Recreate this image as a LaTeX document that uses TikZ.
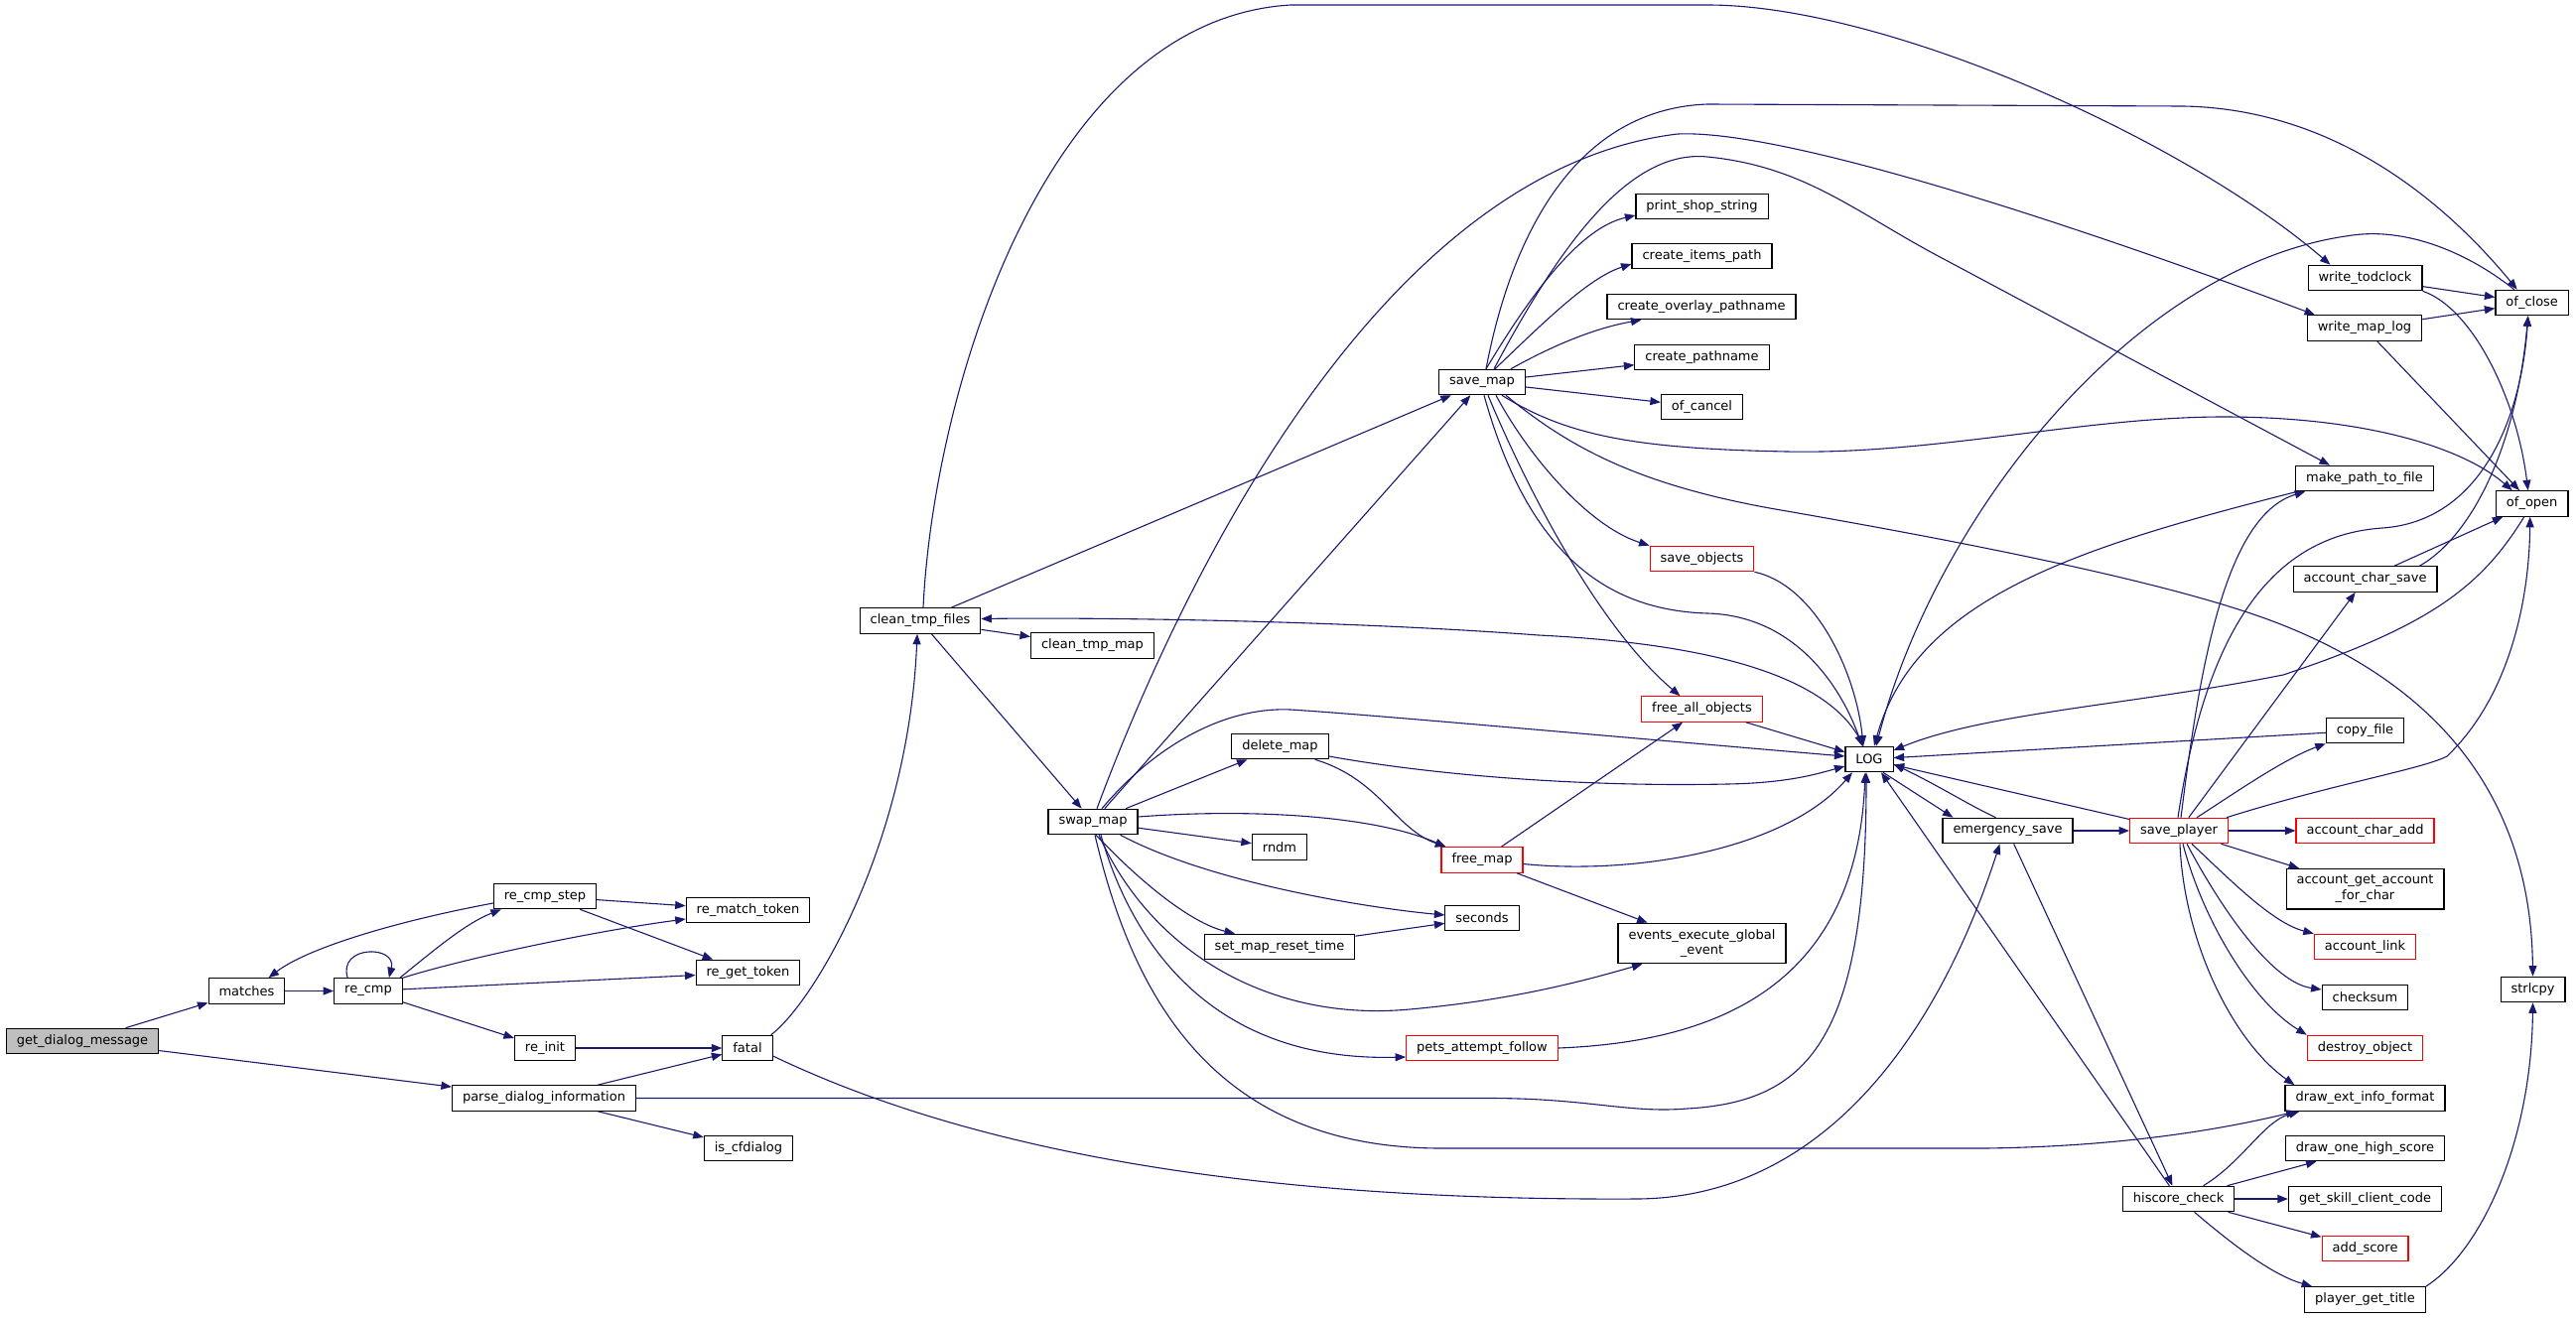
\documentclass[tikz,border=0pt]{standalone}
\usepackage{fontspec}
\setmainfont{DejaVu Sans}
\usepackage{tikz}
\usetikzlibrary{arrows.meta}
\definecolor{edgeblue}{HTML}{191970}
\definecolor{rootfill}{HTML}{BFBFBF}
\definecolor{truncred}{HTML}{FF0000}
\tikzset{
  fn/.style={draw=black, line width=1.1pt, fill=white, minimum height=25.5pt,
    inner xsep=10.5pt, inner ysep=3pt, align=center,
    font=\fontsize{13}{15.5}\selectfont},
  trunc/.style={fn, draw=truncred},
  root/.style={fn, fill=rootfill},
  call/.style={draw=edgeblue, line width=1.1pt, -{Triangle[length=10.5pt,width=8pt]}}
}

\begin{document}
\begin{tikzpicture}[x=1pt,y=-1pt]
\useasboundingbox (0,0) rectangle (2595,1328);

% functions
\node[root] (gdm) at (83,1049) {get\_dialog\_message};
\node[fn] (matches) at (248.5,998.5) {matches};
\node[fn] (recmp) at (371,998.5) {re\_cmp};
\node[fn] (recmpstep) at (549,903) {re\_cmp\_step};
\node[fn] (reinit) at (549,1056) {re\_init};
\node[fn] (parsedlg) at (548,1106.5) {parse\_dialog\_information};
\node[fn] (rematch) at (753.5,917) {re\_match\_token};
\node[fn] (regettoken) at (753.5,980) {re\_get\_token};
\node[fn] (fatal) at (753,1056) {fatal};
\node[fn] (iscfd) at (754,1157) {is\_cfdialog};
\node[fn] (cleanfiles) at (927,625.5) {clean\_tmp\_files};
\node[fn] (cleanmap) at (1100.5,650.5) {clean\_tmp\_map};
\node[fn] (swapmap) at (1101,828) {swap\_map};
\node[fn] (savemap) at (1493,385) {save\_map};
\node[fn] (deletemap) at (1289.5,752) {delete\_map};
\node[fn] (rndm) at (1289,853.5) {rndm};
\node[fn] (resettime) at (1289,954) {set\_map\_reset\_time};
\node[trunc] (freemap) at (1493,866.5) {free\_map};
\node[fn] (seconds) at (1493,925) {seconds};
\node[trunc] (pets) at (1493,1056) {pets\_attempt\_follow};
\node[fn] (printshop) at (1714.5,208) {print\_shop\_string};
\node[fn] (itemspath) at (1714.5,258) {create\_items\_path};
\node[fn] (overlaypath) at (1714,309) {create\_overlay\_pathname};
\node[fn] (pathname) at (1714.5,360) {create\_pathname};
\node[fn] (ofcancel) at (1714.5,410) {of\_cancel};
\node[trunc] (saveobj) at (1714.5,563) {save\_objects};
\node[trunc] (freeall) at (1714.5,714.5) {free\_all\_objects};
\node[fn, minimum height=40.5pt] (events) at (1714.5,950.5) {events\_execute\_global\\\_event};
\node[fn] (log) at (1883,765) {LOG};
\node[fn] (emsave) at (2022.5,837) {emergency\_save};
\node[trunc] (saveplayer) at (2195,837) {save\_player};
\node[fn] (hiscore) at (2194.6,1208) {hiscore\_check};
\node[fn] (todclock) at (2382.5,280) {write\_todclock};
\node[fn] (maplog) at (2382,330.5) {write\_map\_log};
\node[fn] (mkpath) at (2382,482) {make\_path\_to\_file};
\node[fn] (charsave) at (2382.5,583.5) {account\_char\_save};
\node[fn] (copyfile) at (2382.5,736) {copy\_file};
\node[trunc] (charadd) at (2382.5,837) {account\_char\_add};
\node[fn, minimum height=40.5pt] (getaccount) at (2382.5,895.7) {account\_get\_account\\\_for\_char};
\node[trunc] (acclink) at (2382.5,954) {account\_link};
\node[fn] (checksum) at (2382.5,1005) {checksum};
\node[trunc] (destroy) at (2382.5,1056) {destroy\_object};
\node[fn] (drawext) at (2382.5,1106.5) {draw\_ext\_info\_format};
\node[fn] (drawone) at (2382.5,1157) {draw\_one\_high\_score};
\node[fn] (skillcode) at (2382.5,1208) {get\_skill\_client\_code};
\node[trunc] (addscore) at (2382.5,1258) {add\_score};
\node[fn] (gettitle) at (2382.5,1309.4) {player\_get\_title};
\node[fn] (ofclose) at (2550.7,305) {of\_close};
\node[fn] (ofopen) at (2550.7,507.5) {of\_open};
\node[fn] (strlcpy) at (2551.5,997) {strlcpy};

% calls, left part
\draw[call] (gdm) -- (matches);
\draw[call] (gdm) -- (parsedlg);
\draw[call] (matches) -- (recmp);
\draw[call] ([xshift=14pt]recmp.north west) .. controls (340,952) and (400,952) .. ([xshift=-14pt]recmp.north east);
\draw[call] ([xshift=-3pt]recmp.north east) .. controls (440,955) and (470,930) .. ([xshift=8pt]recmpstep.south west);
\draw[call] (recmp.north east) .. controls (470,965) and (600,938) .. ([yshift=-9pt]rematch.west);
\draw[call] (recmp) -- (regettoken);
\draw[call] (recmp) -- (reinit);
\draw[call] ([yshift=-7pt]recmpstep.west) .. controls (400,928) and (310,955) .. ([xshift=22pt]matches.north);
\draw[call] (recmpstep) -- (rematch);
\draw[call] (recmpstep) -- (regettoken);
\draw[call] (reinit) -- (fatal);
\draw[call] (parsedlg) -- (fatal);
\draw[call] (parsedlg) -- (iscfd);
\draw[call] (parsedlg.east) -- (1500,1106.5) .. controls (1600,1106.5) and (1640,1122) .. (1700,1117) .. controls (1820,1110) and (1880,1050) .. ([xshift=-3pt]log.south);
\draw[call] ([xshift=-2pt]fatal.north east) .. controls (820,1010) and (915,850) .. ([xshift=-3pt]cleanfiles.south);
\draw[call] ([yshift=-8pt]fatal.east) .. controls (1000,1170) and (1300,1210) .. (1650,1208) .. controls (1850,1206) and (1960,1020) .. ([xshift=-8pt]emsave.south);

% clean_tmp_files and swap_map
\draw[call] (cleanfiles) -- (cleanmap);
\draw[call] (cleanfiles) -- (swapmap);
\draw[call] (cleanfiles) -- (savemap);
\draw[call] ([xshift=3pt]cleanfiles.north) .. controls (940,400) and (1050,20) .. (1300,5) -- (1720,5) .. controls (1900,5) and (2200,140) .. ([xshift=-35pt]todclock.north);
\draw[call] ([xshift=-6pt]log.north) .. controls (1850,690) and (1750,650) .. (1550,640) .. controls (1350,625) and (1100,622) .. ([yshift=2pt]cleanfiles.east);
\draw[call] (swapmap) -- (savemap);
\draw[call] ([xshift=4pt]swapmap.north) .. controls (1200,560) and (1400,170) .. (1690,135) .. controls (1800,130) and (2100,230) .. ([xshift=-50pt]maplog.north);
\draw[call] (swapmap) -- (deletemap);
\draw[call] ([xshift=9pt]swapmap.north) .. controls (1160,755) and (1230,712) .. (1300,715) .. controls (1380,720) and (1600,740) .. ([yshift=3pt]log.west);
\draw[call] ([yshift=5pt]swapmap.east) .. controls (1250,815) and (1380,820) .. ([xshift=5pt]freemap.north west);
\draw[call] (swapmap) -- (rndm);
\draw[call] ([xshift=-18pt]swapmap.south east) .. controls (1220,890) and (1380,915) .. ([yshift=3pt]seconds.west);
\draw[call] ([xshift=3pt]swapmap.south) .. controls (1150,890) and (1200,930) .. ([xshift=-45pt]resettime.north);
\draw[call] (resettime) -- (seconds);
\draw[call] ([xshift=6pt]swapmap.south) .. controls (1160,960) and (1280,1030) .. (1420,1017) .. controls (1520,1008) and (1590,990) .. ([xshift=-60pt]events.south);
\draw[call] ([xshift=8pt]swapmap.south) .. controls (1140,950) and (1220,1070) .. ([yshift=-9pt]pets.west);
\draw[call] ([xshift=2pt]swapmap.south) .. controls (1140,1000) and (1220,1156) .. (1450,1157) -- (2000,1157) .. controls (2150,1155) and (2250,1135) .. ([xshift=12pt]drawext.south west);
\draw[call] ([yshift=-10pt]deletemap.east) .. controls (1450,782) and (1600,793) .. (1740,790) .. controls (1800,789) and (1830,780) .. ([yshift=-7pt]log.west);
\draw[call] ([xshift=-14pt]deletemap.south east) .. controls (1390,785) and (1405,835) .. ([xshift=5pt]freemap.north west);
\draw[call] (freemap) -- (freeall);
\draw[call] (freemap) -- (events);
\draw[call] ([yshift=-4pt]freemap.east) .. controls (1650,882) and (1800,855) .. ([xshift=-17pt]log.south);
\draw[call] (pets.east) .. controls (1720,1050) and (1870,1000) .. ([xshift=-4pt]log.south);

% save_map
\draw[call] ([xshift=4pt]savemap.north) .. controls (1520,250) and (1580,110) .. (1720,105) -- (2200,107) .. controls (2350,110) and (2460,200) .. ([xshift=-15pt]ofclose.north);
\draw[call] ([xshift=12pt]savemap.north) .. controls (1570,250) and (1640,150) .. (1720,158) .. controls (1820,168) and (1870,215) .. (1960,262) -- ([xshift=-35pt]mkpath.north);
\draw[call] ([xshift=4pt]savemap.north) .. controls (1540,300) and (1590,230) .. ([yshift=-9pt]printshop.west);
\draw[call] ([xshift=13pt]savemap.north) .. controls (1555,325) and (1600,280) .. ([yshift=-8pt]itemspath.west);
\draw[call] ([xshift=-15pt]savemap.north east) .. controls (1570,345) and (1610,330) .. ([xshift=35pt]overlaypath.south west);
\draw[call] (savemap) -- (pathname);
\draw[call] (savemap) -- (ofcancel);
\draw[call] ([xshift=20pt]savemap.south) .. controls (1580,440) and (1650,452) .. (1800,455) .. controls (1950,458) and (2100,420) .. (2240,420) .. controls (2380,420) and (2480,450) .. ([xshift=-20pt]ofopen.north);
\draw[call] ([xshift=24pt]savemap.south) .. controls (1580,450) and (1650,490) .. (1800,515) .. controls (2000,550) and (2200,590) .. (2300,630) .. controls (2500,710) and (2550,850) .. (strlcpy.north);
\draw[call] ([xshift=14pt]savemap.south) .. controls (1540,460) and (1600,530) .. (saveobj.north west);
\draw[call] ([xshift=6pt]savemap.south) .. controls (1550,520) and (1620,640) .. ([xshift=-22pt]freeall.north);
\draw[call] ([xshift=2pt]savemap.south) .. controls (1540,560) and (1620,615) .. (1720,618) .. controls (1800,620) and (1850,680) .. ([xshift=-7pt]log.north);
\draw[call] (saveobj.south east) .. controls (1830,590) and (1870,680) .. ([xshift=-6pt]log.north);
\draw[call] (freeall) -- (log);

% LOG and the right part
\draw[call] ([xshift=-18pt]ofclose.north) .. controls (2480,250) and (2420,230) .. (2370,237) .. controls (2150,265) and (1950,520) .. ([xshift=7pt]log.north);
\draw[call] ([xshift=2pt]mkpath.south west) .. controls (2100,550) and (1930,600) .. ([xshift=5pt]log.north);
\draw[call] ([xshift=-8pt]ofopen.south) .. controls (2500,590) and (2450,630) .. (2300,680) .. controls (2150,710) and (2000,718) .. ([yshift=9pt]log.east);
\draw[call] (copyfile) -- (log);
\draw[call] (saveplayer) -- (log);
\draw[call] ([xshift=-12pt]emsave.north) .. controls (1985,812) and (1950,790) .. ([yshift=-5pt]log.east);
\draw[call] ([xshift=14pt]log.south) -- ([xshift=-55pt]emsave.north);
\draw[call] (hiscore) -- ([xshift=12pt]log.south);
\draw[call] (emsave) -- (saveplayer);
\draw[call] (emsave) -- (hiscore);
\draw[call] (saveplayer) -- (charadd);
\draw[call] (saveplayer) -- (getaccount);
\draw[call] ([xshift=13pt]saveplayer.south) .. controls (2250,890) and (2290,930) .. (acclink.north west);
\draw[call] ([xshift=8pt]saveplayer.south) .. controls (2240,920) and (2290,990) .. ([yshift=8pt]checksum.west);
\draw[call] ([xshift=4pt]saveplayer.south) .. controls (2220,930) and (2270,1010) .. (destroy.north west);
\draw[call] ([xshift=1pt]saveplayer.south) .. controls (2200,950) and (2250,1050) .. ([xshift=10pt]drawext.north west);
\draw[call] ([xshift=18pt]saveplayer.north) .. controls (2250,800) and (2300,765) .. (copyfile.south west);
\draw[call] (saveplayer) -- (charsave);
\draw[call] ([xshift=2pt]saveplayer.north) .. controls (2215,680) and (2240,520) .. ([xshift=10pt]mkpath.south west);
\draw[call] ([xshift=-1pt]saveplayer.north) .. controls (2220,650) and (2280,540) .. (2400,532) .. controls (2500,525) and (2540,420) .. ([xshift=-4pt]ofclose.south);
\draw[call] ([xshift=-2pt]saveplayer.north east) .. controls (2350,790) and (2440,775) .. (2465,762) .. controls (2530,700) and (2548,600) .. ([xshift=-2pt]ofopen.south);
\draw[call] (charsave) -- (ofopen);
\draw[call] ([xshift=55pt]charsave.north) .. controls (2490,540) and (2535,450) .. ([xshift=-4pt]ofclose.south);
\draw[call] (todclock) -- (ofclose);
\draw[call] (maplog) -- (ofclose);
\draw[call] (todclock.south east) .. controls (2490,310) and (2535,400) .. ([xshift=-4pt]ofopen.north);
\draw[call] (maplog) -- (ofopen);
\draw[call] ([xshift=25pt]hiscore.north) .. controls (2260,1170) and (2280,1130) .. ([xshift=15pt]drawext.south west);
\draw[call] (hiscore) -- (drawone);
\draw[call] (hiscore) -- (skillcode);
\draw[call] (hiscore) -- (addscore);
\draw[call] ([xshift=16pt]hiscore.south) .. controls (2250,1255) and (2290,1285) .. ([xshift=8pt]gettitle.north west);
\draw[call] (gettitle.north east) .. controls (2500,1260) and (2550,1150) .. (strlcpy.south);
\end{tikzpicture}
\end{document}
